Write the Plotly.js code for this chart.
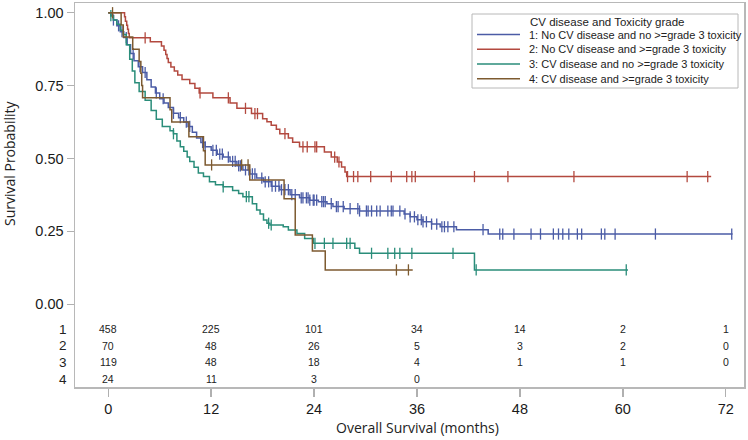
<!DOCTYPE html>
<html>
<head>
<meta charset="utf-8">
<script src="https://cdn.plot.ly/plotly-3.0.1.min.js"></script>
<style>html,body{margin:0;padding:0;background:#fff;}#chart{width:748px;height:440px;}</style>
</head>
<body>
<div id="chart"></div>
<script>
// ---------- data ----------
const groupNames = [
  '1: No CV disease and no >=grade 3 toxicity',
  '2: No CV disease and >=grade 3 toxicity',
  '3: CV disease and no >=grade 3 toxicity',
  '4: CV disease and >=grade 3 toxicity'
];
const legendTitle = 'CV disease and Toxicity grade';

// group 1 step curve (time in months, survival after event)
const g1Time = [0,0.3,0.6,1.0,1.4,1.8,2.2,2.6,3.0,3.5,4.0,4.5,5.0,5.5,6.0,6.5,7.0,7.6,8.2,8.8,9.3,9.8,10.3,10.8,11.3,12.0,12.7,13.4,14.2,15.0,15.7,16.5,17.3,18.1,19.0,20.0,21.2,22.3,23.5,24.5,25.5,26.2,27.5,29.3,34.5,35.2,36.0,36.7,37.7,38.7,40.6,44.3];
const g1Surv = [1.0,0.99,0.975,0.955,0.935,0.915,0.89,0.86,0.835,0.815,0.795,0.77,0.745,0.725,0.705,0.69,0.675,0.655,0.64,0.625,0.61,0.59,0.57,0.555,0.54,0.528,0.515,0.505,0.49,0.475,0.461,0.447,0.433,0.42,0.405,0.393,0.376,0.365,0.357,0.352,0.345,0.335,0.328,0.32,0.31,0.30,0.29,0.283,0.275,0.266,0.256,0.241];
const g1End = 72.8;
const g1Cens = [0.6,1.2,1.6,2.1,2.9,3.7,4.3,5.6,6.4,7.6,8.4,9.1,9.5,11.0,11.3,12.2,12.6,13.0,13.3,14.0,14.5,14.8,15.2,15.4,16.0,16.4,16.8,17.1,17.9,18.3,18.7,19.1,19.5,19.9,20.2,20.6,21.0,21.4,21.8,22.5,22.7,23.1,23.3,23.5,23.9,24.0,24.3,24.9,25.1,25.3,26.0,26.6,26.8,27.4,28.2,29.1,29.3,30.1,30.3,30.7,31.3,31.7,32.6,33.0,33.2,34.0,34.6,35.2,35.7,36.1,36.5,36.7,37.1,37.7,38.3,38.9,39.2,39.6,40.3,43.7,45.65,46.0,47.3,49.3,50.4,51.9,52.5,53.0,53.7,54.7,55.2,57.5,57.9,59.1,63.8,72.7];

// group 2
const g2Time = [0,1.9,2.0,2.15,2.25,2.35,2.45,4.9,6.2,6.5,6.7,6.85,7.0,7.3,7.7,8.1,8.6,9.5,10.1,10.6,12.2,14.2,15.0,16.7,18.0,18.5,19.0,19.6,20.0,21.0,21.5,22.3,25.2,26.0,26.7,27.2,27.6,27.8];
const g2Surv = [1.0,0.986,0.971,0.957,0.943,0.929,0.914,0.90,0.886,0.871,0.857,0.843,0.829,0.814,0.80,0.786,0.771,0.757,0.741,0.725,0.708,0.69,0.672,0.654,0.636,0.626,0.614,0.60,0.585,0.57,0.556,0.54,0.522,0.505,0.488,0.471,0.454,0.438];
const g2End = 70.3;
const g2Cens = [4.3,10.7,14.0,16.0,17.1,17.4,20.6,22.7,23.2,24.1,24.3,26.4,26.9,27.9,28.6,29.1,30.6,33.0,34.8,35.4,35.8,42.7,46.6,54.3,67.5,69.9];

// group 3
const g3Time = [0,0.3,0.6,1.0,1.4,1.75,2.1,2.5,2.8,3.1,3.6,4.3,5.0,5.6,6.3,7.2,7.6,8.0,8.4,8.8,9.2,9.5,10.0,10.5,11.1,11.8,12.5,13.4,14.5,15.2,15.7,16.8,17.3,17.7,18.1,18.5,18.85,20.4,21.0,22.0,22.9,23.9,28.75,29.3,42.7];
const g3Surv = [1.0,0.99,0.975,0.96,0.94,0.925,0.89,0.84,0.80,0.76,0.73,0.70,0.665,0.635,0.61,0.595,0.585,0.56,0.54,0.525,0.505,0.49,0.47,0.45,0.438,0.42,0.41,0.403,0.39,0.38,0.369,0.345,0.323,0.31,0.289,0.278,0.272,0.266,0.255,0.243,0.226,0.209,0.192,0.175,0.118];
const g3End = 60.6;
const g3Cens = [0.3,7.6,13.4,16.1,16.4,18.7,19.0,24.1,25.2,26.2,27.8,28.2,30.7,32.6,33.4,34.0,35.4,40.2,42.9,60.4];

// group 4
const g4Time = [0,1.5,1.75,2.85,3.6,3.8,3.9,4.0,7.2,7.4,9.4,11.1,11.3,16.5,20.5,21.8,23.8,25.3];
const g4Surv = [1.0,0.958,0.917,0.875,0.833,0.792,0.75,0.708,0.667,0.625,0.575,0.527,0.478,0.426,0.362,0.238,0.183,0.118];
const g4End = 35.5;
const g4Cens = [0.5,12.05,15.55,16.3,33.6,35.0];

// numbers at risk
const riskMonths = [0,12,24,36,48,60,72];
const riskLabels = ['1','2','3','4'];
const risk1 = [458,225,101,34,14,2,1];
const risk2 = [70,48,26,5,3,2,0];
const risk3 = [119,48,18,4,1,1,0];
const risk4 = [24,11,3,0];

const xTicks = [0,12,24,36,48,60,72];
const yTicks = [0,0.25,0.5,0.75,1.0];
const xTitle = 'Overall Survival (months)';
const yTitle = 'Survival Probability';

// ---------- styling ----------
const colors = ['#4b5ca6','#b3493f','#2a8d7a','#7d5a30'];
const W = 748, H = 440;
const M = {l:75, r:4, t:3, b:53};
const PW = W - M.l - M.r, PH = H - M.t - M.b;
const px = x => (x - M.l) / PW;         // pixel -> paper x
const py = y => (H - M.b - y) / PH;      // pixel -> paper y

const groups = [
  {t:g1Time, s:g1Surv, end:g1End, c:g1Cens},
  {t:g2Time, s:g2Surv, end:g2End, c:g2Cens},
  {t:g3Time, s:g3Surv, end:g3End, c:g3Cens},
  {t:g4Time, s:g4Surv, end:g4End, c:g4Cens}
];
function survAt(g, t){
  let v = g.s[0];
  for (let i=0;i<g.t.length;i++){ if (g.t[i] <= t) v = g.s[i]; }
  return v;
}

const traces = [];
groups.forEach((g,i)=>{
  traces.push({
    x: g.t.concat([g.end]), y: g.s.concat([g.s[g.s.length-1]]),
    type:'scatter', mode:'lines', line:{shape:'hv', color:colors[i], width:1.5},
    name: groupNames[i], showlegend:false, hoverinfo:'skip'
  });
  traces.push({
    x: g.c, y: g.c.map(t=>survAt(g,t)),
    type:'scatter', mode:'markers',
    marker:{symbol:'line-ns-open', size:8, color:colors[i], line:{color:colors[i], width:1.3}},
    showlegend:false, hoverinfo:'skip'
  });
});

const annotations = [];
const rowY = [329, 345.7, 362, 379.3];
const riskRows = [risk1, risk2, risk3, risk4];
riskRows.forEach((row, r)=>{
  annotations.push({xref:'paper', yref:'paper', x:px(69), y:py(rowY[r]), xanchor:'right', yanchor:'middle',
    text:riskLabels[r], showarrow:false, font:{family:'Liberation Sans, Arial', size:13.5, color:'#222'}});
  row.forEach((v,k)=>{
    annotations.push({xref:'x', yref:'paper', x:riskMonths[k], y:py(rowY[r]), xanchor:'center', yanchor:'middle',
      text:String(v), showarrow:false, font:{family:'Liberation Sans, Arial', size:10.5, color:'#222'}});
  });
});
// axis titles
annotations.push({xref:'x', yref:'paper', x:36, y:py(427), xanchor:'center', yanchor:'middle',
  text:xTitle, showarrow:false, font:{family:'Open Sans', size:14, color:'#222'}});
annotations.push({xref:'paper', yref:'paper', x:px(9), y:py(163), xanchor:'center', yanchor:'middle', textangle:-90,
  text:yTitle, showarrow:false, font:{family:'Open Sans', size:14, color:'#222'}});

// legend (drawn as layout items)
const shapes = [];
shapes.push({type:'rect', xref:'paper', yref:'paper', x0:px(472), x1:px(738), y0:py(88), y1:py(14),
  line:{color:'#b8b8b8', width:1}, fillcolor:'#fff', layer:'below'});
annotations.push({xref:'paper', yref:'paper', x:px(528), y:py(21.5), xanchor:'left', yanchor:'middle',
  text:legendTitle, showarrow:false, font:{family:'Liberation Sans, Arial', size:11.5, color:'#222'}});
const legRows = [34.5, 49.3, 64, 78.8];
groupNames.forEach((n,i)=>{
  shapes.push({type:'line', xref:'paper', yref:'paper', x0:px(477), x1:px(520), y0:py(legRows[i]), y1:py(legRows[i]),
    line:{color:colors[i], width:1.5}});
  annotations.push({xref:'paper', yref:'paper', x:px(527), y:py(legRows[i]), xanchor:'left', yanchor:'middle',
    text:n, showarrow:false, font:{family:'Liberation Sans, Arial', size:11, color:'#222'}});
});

const layout = {
  width:W, height:H, margin:M, paper_bgcolor:'#fff', plot_bgcolor:'#fff',
  showlegend:false,
  xaxis:{range:[-3.88,74.13], tickvals:xTicks, ticktext:xTicks.map(String), ticks:'outside', ticklen:8,
    tickcolor:'#b0b0b0', tickwidth:1.5, showline:true, linecolor:'#b8b8b8', linewidth:1.5, mirror:true,
    showgrid:false, zeroline:false, tickfont:{family:'Liberation Sans, Arial', size:14.5, color:'#1a1a1a'}},
  yaxis:{range:[-0.2836,1.0333], tickvals:yTicks, ticktext:yTicks.map(v=>v.toFixed(2)), ticks:'outside', ticklen:7,
    tickcolor:'#b0b0b0', tickwidth:1.5, showline:true, linecolor:'#b8b8b8', linewidth:1.5, mirror:true,
    showgrid:false, zeroline:false, tickfont:{family:'Liberation Sans, Arial', size:14.5, color:'#1a1a1a'}},
  annotations: annotations,
  shapes: shapes
};
Plotly.newPlot('chart', traces, layout, {staticPlot:true, displayModeBar:false});
</script>
</body>
</html>
